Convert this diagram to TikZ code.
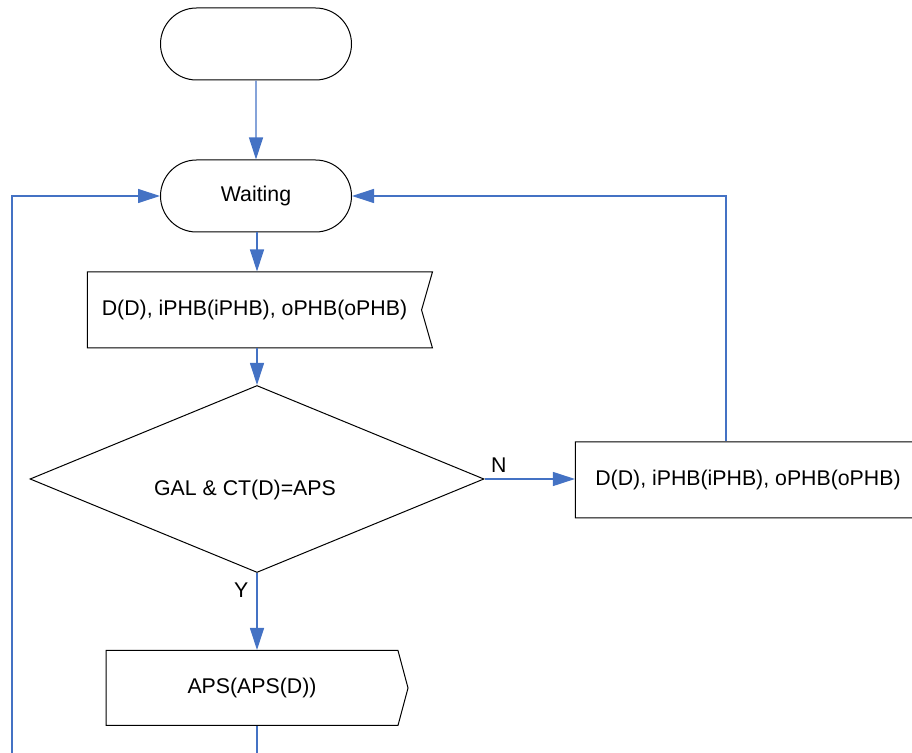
\documentclass[tikz,border=0pt]{standalone}
\usepackage{fontspec}
\setmainfont{Liberation Sans}
\usetikzlibrary{arrows.meta,positioning,calc,shapes.geometric,shapes.symbols,shapes.misc}
\definecolor{flowblue}{HTML}{4472C4}
\tikzset{term/.style={draw,rounded rectangle,minimum width=95.5pt,minimum height=36pt,inner sep=0pt},
  recv/.style={draw,signal,signal from=east,signal to=nowhere,signal pointer angle=148,minimum width=172.5pt,minimum height=38pt,inner sep=0pt},
  send/.style={draw,signal,signal to=east,signal from=nowhere,signal pointer angle=150,minimum width=151pt,minimum height=37.5pt,inner sep=0pt},
  decide/.style={draw,diamond,aspect=2.43,minimum width=227pt,minimum height=93.5pt,inner sep=0pt,text height=17pt,text depth=0.8pt},
  flow/.style={draw=flowblue,line width=0.6pt,-{Triangle[length=11pt,width=7pt]}},
  link/.style={draw=flowblue,line width=0.6pt}}

\begin{document}
\begin{tikzpicture}[x=0.5pt,y=-0.5pt,font=\fontsize{10.65}{12}\selectfont,line width=0.5pt]
\clip (0,0) rectangle (912,753);
    \node[term] (start) at (256,44) {};
    \node[term] (wait) at (256,196) {Waiting};
    \node[recv] (in1) at (254.5,310) {D(D), iPHB(iPHB), oPHB(oPHB)};
    \node[decide] (gal) at (257,479) {GAL \& CT(D)=APS\hspace*{12pt}};
    \node[recv,minimum width=178pt] (in2) at (748,480) {D(D), iPHB(iPHB), oPHB(oPHB)};
    \node[send] (aps) at (252,688) {APS(APS(D))};
    \coordinate (back) at (726,196);
    \coordinate (loop) at (12,780);

    \draw[flow] (start) -- (wait);
    \draw[flow] (wait.south -| gal.north) -- (in1.north -| gal.north);
    \draw[flow] (in1.south -| gal.north) -- (gal);
    \draw[flow] (gal.east) -- node[pos=0,above right,inner sep=3pt] {N} (gal.east -| in2.west);
    \draw[flow] (in2.north -| back) |- (wait.east);
    \draw[flow] (gal.south) -- node[pos=0.22,left,inner sep=4pt] {Y} (aps.north -| gal.south);
    \draw[link] (aps.south -| gal.south) |- (loop);
    \draw[flow] (loop) |- (wait.west);
\end{tikzpicture}
\end{document}
